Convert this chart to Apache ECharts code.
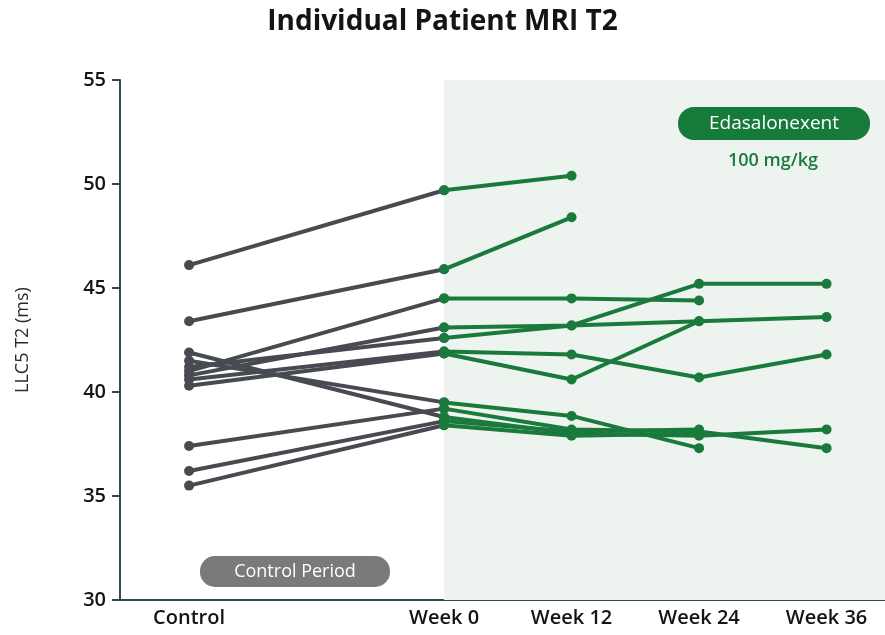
<!DOCTYPE html>
<html>
<head>
<meta charset="utf-8">
<script src="https://cdn.jsdelivr.net/npm/echarts@6/dist/echarts.min.js"></script>
<style>
  html, body { margin: 0; padding: 0; background: #fff; }
  #main { width: 885px; height: 635px; }
</style>
</head>
<body>
<div id="main"></div>
<script>
let log = console.log.bind(console)

// x positions (weeks), Control sits two visits before week 0
const weeks = [-24, 0, 12, 24, 36]
const xLabels = ['Control', 'Week 0', 'Week 12', 'Week 24', 'Week 36']
const yTicks = [30, 35, 40, 45, 50, 55]

// one entry per patient, null = no visit
const control = [46.1, 43.4, 41.0, 40.8, 41.2, 40.6, 40.3, 41.9, 41.5, 37.4, 36.2, 35.5]
const week0   = [49.7, 45.9, 44.5, 43.1, 42.6, 41.95, 41.85, 38.8, 39.5, 39.2, 38.6, 38.4]
const week12  = [50.4, 48.4, 44.5, 43.2, 43.2, 41.8, 40.6, 38.0, 38.85, 38.2, 38.1, 37.9]
const week24  = [null, null, 44.4, 43.4, 45.2, 40.7, 43.4, 37.9, 37.3, 38.1, 38.2, 38.0]
const week36  = [null, null, null, 43.6, 45.2, 41.8, null, 38.2, null, 37.3, null, null]

const GRAY = '#474a51'
const GREEN = '#1a7a3c'
const AXIS = '#2c4b53'

let series = []

// control period lines (gray)
for (let i = 0; i < control.length; i++) {
    series.push({
        type: 'line',
        data: [[weeks[0], control[i]], [weeks[1], week0[i]]],
        symbol: 'circle',
        symbolSize: 10,
        lineStyle: { color: GRAY, width: 4 },
        itemStyle: { color: GRAY },
        silent: true,
        z: 2,
    })
}

// treatment lines (green)
for (let i = 0; i < control.length; i++) {
    let vals = [week0[i], week12[i], week24[i], week36[i]]
    let d = []
    for (let j = 0; j < vals.length; j++) {
        if (vals[j] !== null) {
            d.push([weeks[j + 1], vals[j]])
        }
    }
    series.push({
        type: 'line',
        data: d,
        symbol: 'circle',
        symbolSize: 10,
        lineStyle: { color: GREEN, width: 4 },
        itemStyle: { color: GREEN },
        silent: true,
        z: 3,
    })
}

// shaded treatment period
series.push({
    type: 'line',
    data: [],
    markArea: {
        silent: true,
        itemStyle: { color: '#edf3ef' },
        data: [[{ xAxis: 0, yAxis: 30 }, { xAxis: 41.5, yAxis: 55 }]],
    },
    z: 1,
})

let myChart = echarts.init(document.getElementById('main'))

let option = {
    animation: false,
    backgroundColor: '#ffffff',
    textStyle: { fontFamily: 'Open Sans' },
    title: {
        text: 'Individual Patient MRI T2',
        left: 'center',
        top: 3,
        textStyle: {
            fontFamily: 'Open Sans',
            fontSize: 28,
            fontWeight: 700,
            color: '#141414',
        },
    },
    grid: {
        left: 120,
        right: 0,
        top: 80,
        bottom: 35,
    },
    xAxis: {
        type: 'value',
        min: -30.5,
        max: 41.5,
        splitLine: { show: false },
        axisLine: { show: true, onZero: false, lineStyle: { color: AXIS, width: 2 } },
        axisTick: { show: false },
        axisLabel: {
            customValues: weeks,
            margin: 8,
            fontSize: 20,
            color: '#141414',
            fontWeight: 600,
            fontFamily: 'Open Sans',
            formatter: function (v) {
                let k = weeks.indexOf(v)
                return k >= 0 ? xLabels[k] : ''
            },
        },
    },
    yAxis: {
        type: 'value',
        min: 30,
        max: 55,
        interval: 5,
        name: 'LLC5 T2 (ms)',
        nameLocation: 'middle',
        nameGap: 88,
        nameTextStyle: { fontSize: 18, color: '#2a2a2a', fontFamily: 'Open Sans' },
        splitLine: { show: false },
        axisLine: { show: true, onZero: false, lineStyle: { color: AXIS, width: 2 } },
        axisTick: { show: true, length: 8, lineStyle: { color: AXIS, width: 2 } },
        axisLabel: {
            customValues: yTicks,
            margin: 14,
            fontSize: 20,
            color: '#141414',
            fontWeight: 600,
            fontFamily: 'Open Sans',
        },
    },
    graphic: [
        {
            type: 'rect',
            shape: { x: 200, y: 556, width: 190, height: 31, r: 15 },
            style: { fill: '#7a7a7a' },
            z: 10,
        },
        {
            type: 'text',
            x: 295,
            y: 572,
            style: {
                text: 'Control Period',
                fill: '#ffffff',
                fontSize: 18,
                fontFamily: 'Open Sans',
                fontWeight: 500,
                align: 'center',
                verticalAlign: 'middle',
            },
            z: 11,
        },
        {
            type: 'rect',
            shape: { x: 678, y: 107, width: 192, height: 33, r: 16 },
            style: { fill: '#157a3a' },
            z: 10,
        },
        {
            type: 'text',
            x: 774,
            y: 124,
            style: {
                text: 'Edasalonexent',
                fill: '#ffffff',
                fontSize: 19,
                fontFamily: 'Open Sans',
                fontWeight: 500,
                align: 'center',
                verticalAlign: 'middle',
            },
            z: 11,
        },
        {
            type: 'text',
            x: 773,
            y: 161,
            style: {
                text: '100 mg/kg',
                fill: '#1a7a3c',
                fontSize: 18,
                fontFamily: 'Open Sans',
                fontWeight: 600,
                align: 'center',
                verticalAlign: 'middle',
            },
            z: 11,
        },
    ],
    series: series,
}

myChart.setOption(option)
</script>
</body>
</html>
